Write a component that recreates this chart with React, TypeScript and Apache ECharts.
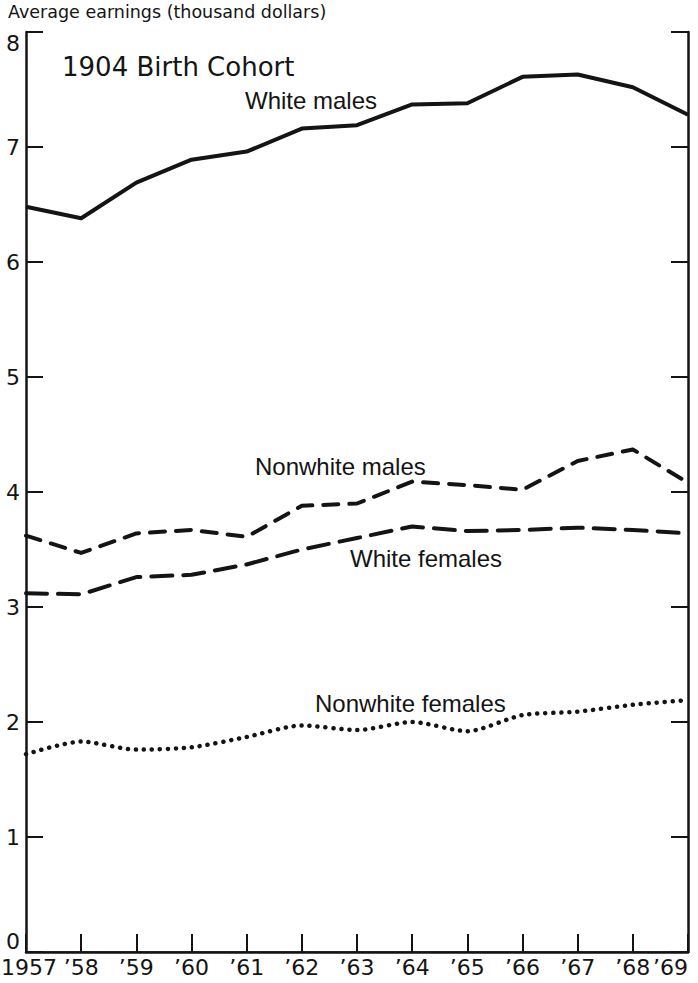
import React, { useEffect, useRef } from "react";
import * as echarts from "echarts";

const years = ["1957", "’58", "’59", "’60", "’61", "’62", "’63", "’64", "’65", "’66", "’67", "’68", "’69"];
const whiteMales = [6.48, 6.38, 6.69, 6.89, 6.96, 7.16, 7.19, 7.37, 7.38, 7.61, 7.63, 7.52, 7.28];
const nonwhiteMales = [3.62, 3.47, 3.64, 3.67, 3.61, 3.88, 3.9, 4.09, 4.06, 4.02, 4.27, 4.37, 4.08];
const whiteFemales = [3.12, 3.11, 3.26, 3.28, 3.37, 3.5, 3.6, 3.7, 3.66, 3.67, 3.69, 3.67, 3.64];
const nonwhiteFemales = [1.72, 1.83, 1.76, 1.78, 1.87, 1.97, 1.93, 2.0, 1.92, 2.06, 2.09, 2.15, 2.19];

const yTitle = "Average earnings (thousand dollars)";
const chartTitle = "1904 Birth Cohort";
const seriesNames = ["White males", "Nonwhite males", "White females", "Nonwhite females"];

const INK = "#141414";

export default function App() {
  const ref = useRef<HTMLDivElement>(null);
  useEffect(() => {
    document.body.style.margin = "0";
    const chart = echarts.init(ref.current!, null, { renderer: "svg" });
    const labelFont = "'Liberation Sans', Arial, sans-serif";
    const dejavu = "'DejaVu Sans', sans-serif";
    const yAxisBase = {
      type: "value" as const,
      min: 0,
      max: 8,
      interval: 1,
      splitLine: { show: false },
      axisLine: { show: true, lineStyle: { color: INK, width: 2.5 } },
      axisTick: { show: true, inside: true, length: 17, lineStyle: { color: INK, width: 2 } },
    };
    chart.setOption({
      animation: false,
      backgroundColor: "#ffffff",
      grid: {
        left: 26,
        right: 10,
        top: 32,
        bottom: 31,
        containLabel: false,
        outerBoundsMode: "none",
      },
      xAxis: [
        {
          type: "category",
          data: years,
          boundaryGap: false,
          axisLine: { show: true, lineStyle: { color: INK, width: 2.5 } },
          axisTick: { show: true, inside: true, length: 18, lineStyle: { color: INK, width: 2 } },
          axisLabel: {
            color: INK,
            fontFamily: dejavu,
            fontSize: 22,
            margin: 4,
            interval: 0,
            hideOverlap: false,
            alignMaxLabel: "right",
            formatter: (v: string, i: number) => (i === 0 ? `{first|${v}}` : v),
            rich: {
              first: {
                fontFamily: dejavu,
                fontSize: 22,
                color: INK,
                padding: [0, 0, 0, 6],
              },
            },
          },
          splitLine: { show: false },
        },
        {
          type: "category",
          data: years,
          boundaryGap: false,
          position: "top",
          axisLine: { show: true, lineStyle: { color: INK, width: 1.5 } },
          axisTick: { show: false },
          axisLabel: { show: false },
          splitLine: { show: false },
        },
      ],
      yAxis: [
        {
          ...yAxisBase,
          position: "left",
          axisLabel: {
            color: INK,
            fontFamily: dejavu,
            fontSize: 22,
            margin: 6,
            verticalAlignMaxLabel: "top",
            verticalAlignMinLabel: "bottom",
          },
        },
        {
          ...yAxisBase,
          position: "right",
          axisLabel: { show: false },
        },
      ],
      series: [
        {
          name: seriesNames[0],
          type: "line",
          data: whiteMales,
          symbol: "none",
          lineStyle: { color: INK, width: 4, type: "solid", join: "round" },
        },
        {
          name: seriesNames[1],
          type: "line",
          data: nonwhiteMales,
          symbol: "none",
          lineStyle: { color: INK, width: 4, type: [15, 11], cap: "round", join: "round" },
        },
        {
          name: seriesNames[2],
          type: "line",
          data: whiteFemales,
          symbol: "none",
          lineStyle: { color: INK, width: 4, type: [21, 11], cap: "round", join: "round" },
        },
        {
          name: seriesNames[3],
          type: "line",
          data: nonwhiteFemales,
          symbol: "none",
          smooth: 0.25,
          lineStyle: { color: INK, width: 4.5, type: [0.1, 7.9], cap: "round" },
        },
      ],
      graphic: [
        {
          type: "text",
          left: 8,
          top: 3,
          style: { text: yTitle, fill: INK, font: `17.5px ${dejavu}` },
        },
        {
          type: "text",
          x: 62,
          y: 67,
          style: { text: chartTitle, fill: INK, font: `26px ${dejavu}`, verticalAlign: "middle" },
        },
        {
          type: "text",
          x: 245,
          y: 100,
          style: { text: seriesNames[0], fill: INK, font: `24px ${labelFont}`, verticalAlign: "middle" },
        },
        {
          type: "text",
          x: 255,
          y: 466,
          style: { text: seriesNames[1], fill: INK, font: `24px ${labelFont}`, verticalAlign: "middle" },
        },
        {
          type: "text",
          x: 350,
          y: 558,
          style: { text: seriesNames[2], fill: INK, font: `24px ${labelFont}`, verticalAlign: "middle" },
        },
        {
          type: "text",
          x: 315,
          y: 703,
          style: { text: seriesNames[3], fill: INK, font: `24px ${labelFont}`, verticalAlign: "middle" },
        },
      ],
    });
    return () => chart.dispose();
  }, []);
  return (
    <div
      ref={ref}
      style={{ position: "absolute", left: 0, top: 0, width: 698, height: 983, background: "#fff" }}
    />
  );
}
